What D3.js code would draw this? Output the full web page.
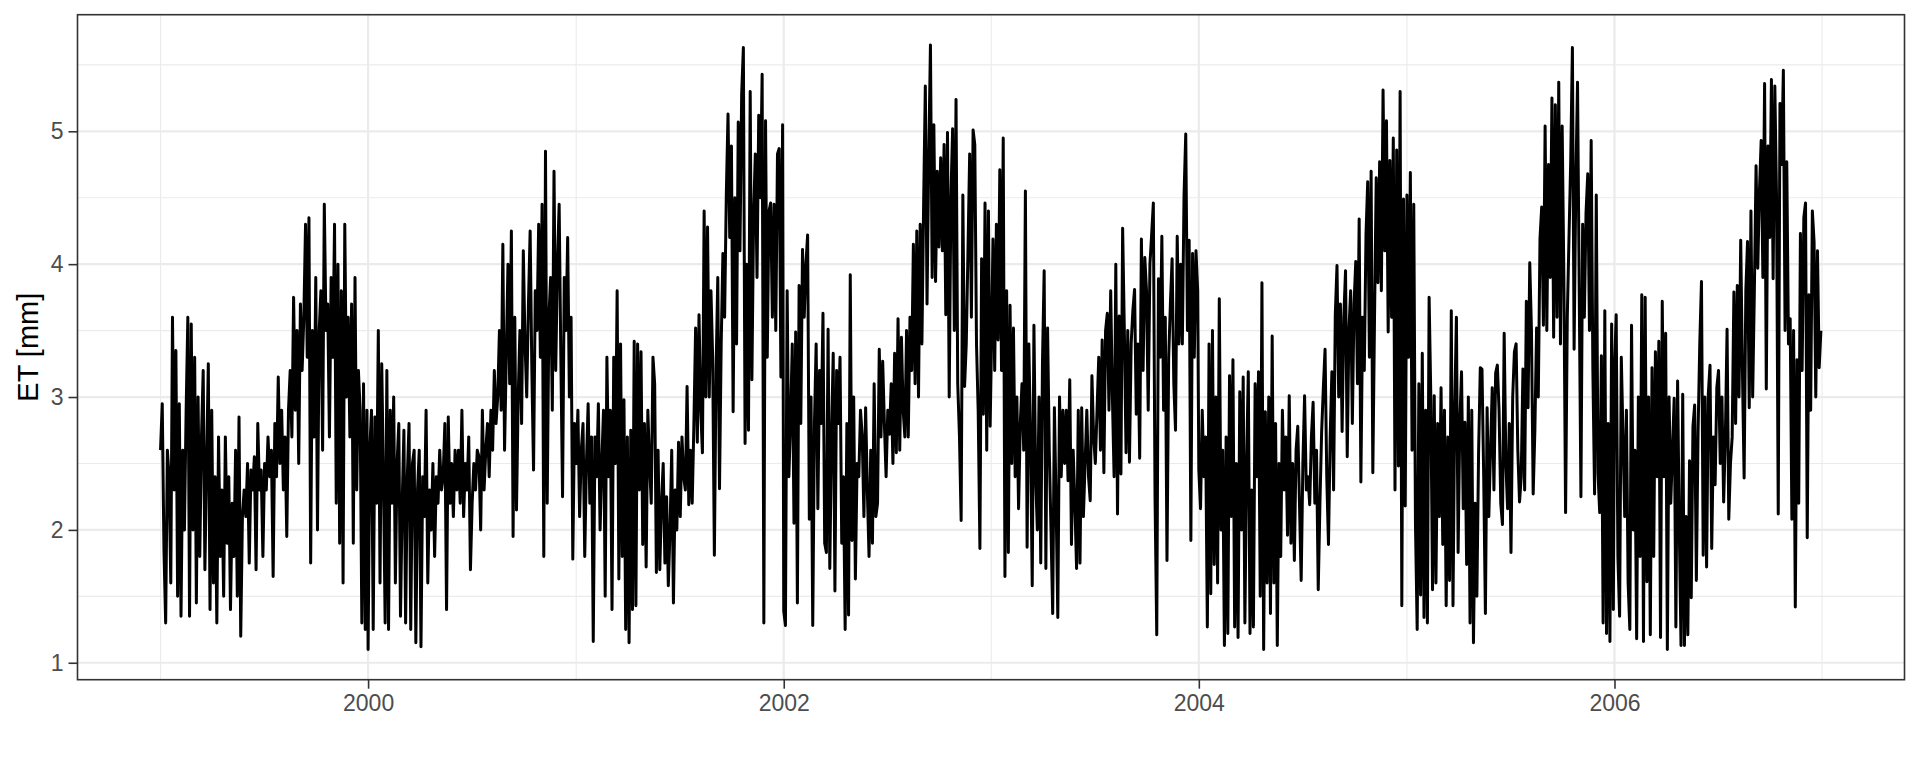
<!DOCTYPE html>
<html>
<head>
<meta charset="utf-8">
<script src="https://cdn.jsdelivr.net/npm/d3@7"></script>
<style>
  body { margin: 0; background: #fff; }
  text { font-family: "Liberation Sans", Arial, sans-serif; }
</style>
</head>
<body>
<svg id="chart" width="1920" height="768"></svg>
<script>
// daily ET, one value every STEP days from 1 Jan of each year
var STEP = 3;
var years = [1999, 2000, 2001, 2002, 2003, 2004, 2005, 2006];

var et1999 = [2.6,2.95,1.85,1.3,2.6,2.4,1.6,
  3.6,2.3,3.35,1.5,2.95,1.35,2.6,2.0,2.9,
  3.6,1.35,3.55,2.0,3.3,1.45,3.0,1.8,2.7,
  3.2,1.7,2.5,3.25,1.4,2.9,1.6,2.4,1.3,2.7,1.8,
  2.3,1.5,2.7,1.9,2.4,1.4,2.2,1.8,2.6,1.5,2.85,1.2,
  2.1,2.3,2.1,2.5,1.75,2.45,2.3,2.55,1.7,2.8,2.3,2.45,1.8,2.5,2.3,2.7,
  2.4,2.6,1.65,2.8,2.4,3.15,2.5,2.9,2.3,2.7,1.95,
  2.9,3.2,2.7,3.75,2.9,3.5,2.5,3.7,3.2,3.6,4.3,
  3.3,4.35,1.75,3.5,2.7,3.9,2.0,3.5,
  3.8,2.6,4.45,3.5,3.7,2.7,3.9,3.3,
  4.3,2.2,4.0,1.9,3.8,1.6,4.3,3.0,
  3.6,2.7,3.7,1.9,3.9,2.3,3.2,2.9,
  1.3,3.1,1.25,2.9];

var et2000 = [1.1,2.6,2.9,1.25,
  2.85,2.2,3.5,1.6,3.25,2.4,1.3,
  3.2,1.25,2.9,2.2,3.0,1.6,2.5,2.8,1.35,2.2,2.75,1.3,2.4,2.8,1.25,2.5,
  2.6,1.15,2.3,2.6,1.12,2.4,2.1,2.9,1.6,2.3,2.0,2.5,1.8,2.4,2.2,2.6,
  2.3,2.4,2.8,1.4,2.85,2.2,2.5,2.1,2.6,2.3,
  2.6,2.2,2.9,2.1,2.5,2.3,2.7,1.7,2.2,2.5,2.3,2.6,
  2.55,2.0,2.9,2.3,2.6,2.8,2.4,2.9,2.6,3.2,2.8,3.0,
  3.5,2.9,4.15,2.6,3.3,4.0,3.1,4.25,1.95,3.6,2.15,3.0,
  3.5,2.8,4.1,3.4,3.0,3.7,4.25,3.2,2.45,3.8,3.5,
  4.3,3.3,4.45,1.8,4.85,2.2,3.6,3.9,2.9,4.7,3.2,4.0,
  4.45,3.3,2.25,3.9,3.5,4.2,3.0,3.6,1.78,2.8];

var et2001 = [2.5,2.9,2.1,2.6,2.8,1.8,2.5,2.95,2.2,2.7,1.16,2.7,2.4,2.95,2.0,2.5,2.9,1.5,3.3,2.4,2.9,
  1.4,3.3,2.5,3.8,1.63,3.4,1.8,2.98,
  1.25,2.7,1.15,2.75,1.4,3.42,1.43,3.4,
  2.3,3.34,1.89,2.8,1.72,2.9,2.5,2.2,3.3,
  3.1,1.68,2.6,1.7,2.2,2.5,1.75,2.25,1.58,2.0,2.6,1.45,2.3,2.0,
  2.66,2.1,2.7,2.4,2.3,3.08,2.19,2.6,2.2,2.8,3.52,
  2.66,3.62,2.9,2.58,4.4,3.0,4.28,3.0,3.8,3.3,1.81,3.2,
  3.9,2.31,3.4,4.08,3.6,4.52,5.13,4.2,4.89,2.89,4.5,3.4,
  5.07,4.1,5.28,5.63,2.65,4.0,2.75,5.3,3.13,4.37,4.83,3.9,5.12,4.5,5.43,
  1.3,5.08,3.3,4.4,4.46,3.6,4.45,3.5,4.83,4.87,3.15,5.05];

var et2002 = [1.39,1.28,3.8,2.4,2.81,3.4,2.05,3.49,1.45,3.84,2.8,
  4.11,3.6,4.0,4.22,2.08,3.0,1.28,2.8,3.4,
  2.16,3.2,2.8,3.63,1.9,1.83,3.51,1.71,2.7,3.33,
  1.54,3.2,2.8,3.3,1.9,2.4,1.25,2.8,1.36,
  3.92,1.92,3.0,1.63,2.5,2.4,2.9,2.71,2.1,2.92,2.3,
  1.8,2.6,1.9,3.1,2.1,2.2,3.36,2.7,3.27,2.8,2.4,2.9,
  2.72,3.1,2.5,3.33,2.58,3.59,2.6,3.45,2.9,2.7,3.5,2.7,3.6,3.2,4.15,
  3.1,4.25,3.0,4.3,3.4,4.45,
  5.34,3.7,4.8,5.65,3.9,5.05,3.87,4.7,
  4.13,4.8,4.1,4.9,3.62,4.99,3.0,4.5,
  5.02,3.5,5.24,3.1,2.71,2.07,4.52,3.08,
  3.4,4.1,4.83,3.6,5.01,4.9,3.4,2.89,1.86,
  4.04,2.87,4.46,2.6,4.4,2.78];

var et2003 = [3.3,4.19,3.2,4.3,
  3.43,4.71,3.2,4.95,1.65,3.8,1.83,3.69,2.5,3.52,
  2.4,3.0,2.16,2.8,3.1,2.6,4.55,1.87,3.4,2.7,
  1.58,3.54,2.4,2.0,3.0,1.75,3.25,3.95,1.71,3.52,2.6,2.0,1.37,2.92,2.2,1.34,3.0,2.4,2.9,2.5,
  2.9,2.37,3.13,1.89,2.6,2.2,1.71,2.9,
  1.75,2.92,2.1,2.5,2.9,2.4,2.22,3.16,2.7,2.5,
  2.9,3.3,2.6,3.43,2.43,3.5,3.63,2.9,3.8,3.0,
  2.4,4.0,2.12,3.61,2.42,4.27,3.5,2.58,3.5,2.51,
  3.4,3.65,3.81,2.87,3.4,2.54,4.19,3.2,4.05,
  3.8,2.9,4.0,4.22,4.46,2.24,1.21,3.89,3.3,4.21,
  2.9,3.6,1.77,3.3,3.7,4.04,3.1,2.75,4.21,3.4,
  4.0,3.4,4.52,4.98,3.5,4.18,1.92,4.08,3.3,4.1,3.8];

var et2004 = [2.45,2.16,2.9,2.4,2.7,1.27,3.4,1.52,3.5,1.74,3.0,1.6,
  3.74,2.0,2.6,1.13,2.7,1.22,3.16,2.1,3.28,1.27,
  2.5,1.19,3.04,2.0,3.15,1.3,2.5,3.19,1.22,
  2.3,1.27,3.1,2.4,3.19,1.5,3.86,1.1,2.89,1.6,
  3.0,1.37,3.46,1.6,2.8,1.13,2.5,1.8,2.9,2.3,
  2.7,1.96,3.01,1.9,2.5,1.77,2.6,2.78,2.2,1.62,
  2.5,3.01,2.3,2.4,2.19,2.7,2.96,2.2,2.6,1.55,
  2.2,2.74,3.07,3.36,2.4,1.89,2.7,3.19,2.3,3.62,
  3.99,3.0,3.7,2.74,3.6,3.95,2.55,3.5,3.8,2.8,
  3.7,4.02,3.1,4.34,2.36,3.6,3.2,4.22,4.62,3.3,
  4.7,2.43,3.6,4.65,3.86,4.77,3.8,5.31,
  4.1,5.08,3.49,4.78,3.6,4.95,2.3,
  4.86,2.48,5.3,1.43,4.49,2.18];

var et2005 = [4.52,3.3,4.69,2.6,
  4.45,2.04,1.25,3.1,1.51,3.33,1.34,2.9,1.3,3.75,
  3.0,1.55,3.01,1.6,2.8,2.1,3.07,1.89,2.9,1.43,
  2.7,1.62,3.65,1.43,2.9,3.6,1.83,2.8,3.19,2.16,
  2.81,1.74,3.0,1.3,2.9,1.15,2.2,1.5,2.58,
  3.22,3.21,2.4,1.37,2.92,2.1,2.6,3.07,2.3,3.18,
  3.24,2.9,2.2,2.04,3.48,2.5,2.16,2.8,1.83,3.0,3.34,3.4,2.6,2.21,2.4,
  3.21,2.3,3.72,2.92,4.01,3.5,2.27,2.75,
  3.52,3.0,4.19,4.43,3.54,5.04,3.5,
  4.75,3.9,5.25,3.45,5.2,3.6,5.37,3.4,5.04,3.9,
  2.13,3.6,4.2,4.77,5.63,3.36,4.6,5.37,3.8,2.25,
  4.3,3.6,4.39,4.68,3.5,4.93,3.2,2.27,4.52,2.43,
  2.13,3.31,1.3,3.65,1.22,2.8,1.16,3.55,1.4];

var et2006 = [3.2,3.62,1.8,1.35,3.3,2.7,2.1,2.9,1.6,1.25,
  3.54,2.0,2.6,1.18,3.0,1.8,3.77,1.16,3.75,1.61,
  3.0,1.21,3.22,1.8,3.34,2.4,3.42,1.19,3.72,2.4,3.48,1.1,3.0,2.2,2.6,
  2.99,1.27,3.12,2.0,1.13,3.02,1.13,2.1,
  1.21,2.52,1.49,2.78,2.94,1.62,2.73,
  3.4,3.87,1.81,3.0,1.72,3.02,3.24,1.86,2.7,2.34,
  3.07,3.2,2.5,3.0,2.21,2.7,3.51,2.08,2.5,2.7,
  3.79,2.8,3.84,3.0,4.18,3.2,2.39,3.8,4.17,2.92,
  4.4,3.0,3.8,4.74,3.97,4.56,4.93,3.9,5.36,3.06,
  4.89,4.2,5.39,3.89,5.34,4.5,2.12,5.21,4.75,
  5.46,3.5,4.77,3.4,3.59,2.08,3.5,1.42,3.28,2.2,
  4.23,3.2,4.35,4.46,1.94,3.77,2.9,4.4,4.17,3.0,4.1,3.22,3.5];

var yMajor = [1, 2, 3, 4, 5];
var yMinor = [1.5, 2.5, 3.5, 4.5, 5.5];
var xMajorYears = [2000, 2002, 2004, 2006];
var xMinorYears = [1999, 2001, 2003, 2005, 2007];

var series = [et1999, et2000, et2001, et2002, et2003, et2004, et2005, et2006];
var data = [];
series.forEach(function(vals, k){
  vals.forEach(function(v, i){
    data.push({date: d3.timeDay.offset(new Date(years[k], 0, 1), i * STEP), et: v});
  });
});

var svg = d3.select("#chart");
var panel = {left: 77.5, right: 1904.5, top: 14.7, bottom: 679.7};

// ggplot style 5% expansion on both axes
var first = new Date(1999, 0, 1), last = new Date(2006, 11, 31);
var span = last - first;
var x = d3.scaleTime()
    .domain([new Date(+first - 0.05 * span), new Date(+last + 0.05 * span)])
    .range([panel.left, panel.right]);
var ext = d3.extent(data, function(d){ return d.et; });
var pad = 0.05 * (ext[1] - ext[0]);
var y = d3.scaleLinear()
    .domain([ext[0] - pad, ext[1] + pad])
    .range([panel.bottom, panel.top]);

var grid = svg.append("g");
grid.selectAll(".ymin").data(yMinor).join("line")
    .attr("x1", panel.left).attr("x2", panel.right)
    .attr("y1", function(d){ return y(d); }).attr("y2", function(d){ return y(d); })
    .attr("stroke", "#EBEBEB").attr("stroke-width", 1.1);
grid.selectAll(".xmin").data(xMinorYears).join("line")
    .attr("y1", panel.top).attr("y2", panel.bottom)
    .attr("x1", function(d){ return x(new Date(d, 0, 1)); })
    .attr("x2", function(d){ return x(new Date(d, 0, 1)); })
    .attr("stroke", "#EBEBEB").attr("stroke-width", 1.1);
grid.selectAll(".ymaj").data(yMajor).join("line")
    .attr("x1", panel.left).attr("x2", panel.right)
    .attr("y1", function(d){ return y(d); }).attr("y2", function(d){ return y(d); })
    .attr("stroke", "#EBEBEB").attr("stroke-width", 2.2);
grid.selectAll(".xmaj").data(xMajorYears).join("line")
    .attr("y1", panel.top).attr("y2", panel.bottom)
    .attr("x1", function(d){ return x(new Date(d, 0, 1)); })
    .attr("x2", function(d){ return x(new Date(d, 0, 1)); })
    .attr("stroke", "#EBEBEB").attr("stroke-width", 2.2);

var line = d3.line()
    .x(function(d){ return x(d.date); })
    .y(function(d){ return y(d.et); });

svg.append("path")
    .datum(data)
    .attr("d", line)
    .attr("fill", "none")
    .attr("stroke", "#000")
    .attr("stroke-width", 3)
    .attr("stroke-linejoin", "round");

svg.append("rect")
    .attr("x", panel.left).attr("y", panel.top)
    .attr("width", panel.right - panel.left)
    .attr("height", panel.bottom - panel.top)
    .attr("fill", "none").attr("stroke", "#333333").attr("stroke-width", 1.6);

var xAxis = d3.axisBottom(x)
    .tickValues(xMajorYears.map(function(yr){ return new Date(yr, 0, 1); }))
    .tickFormat(d3.timeFormat("%Y"))
    .tickSize(9).tickPadding(6);
var gx = svg.append("g").attr("transform", "translate(0," + panel.bottom + ")").call(xAxis);

var yAxis = d3.axisLeft(y).tickValues(yMajor).tickFormat(d3.format("d")).tickSize(9).tickPadding(5);
var gy = svg.append("g").attr("transform", "translate(" + panel.left + ",0)").call(yAxis);

[gx, gy].forEach(function(g){
  g.select(".domain").remove();
  g.selectAll(".tick line").attr("stroke", "#333333").attr("stroke-width", 1.6);
  g.selectAll(".tick text")
    .attr("fill", "#4D4D4D")
    .style("font-size", "23px")
    .style("font-family", "'Liberation Sans', Arial, sans-serif");
});

svg.append("text")
    .attr("transform", "translate(38," + ((panel.top + panel.bottom) / 2) + ") rotate(-90)")
    .attr("text-anchor", "middle")
    .attr("fill", "#000")
    .style("font-size", "29px")
    .text("ET [mm]");
</script>
</body>
</html>
